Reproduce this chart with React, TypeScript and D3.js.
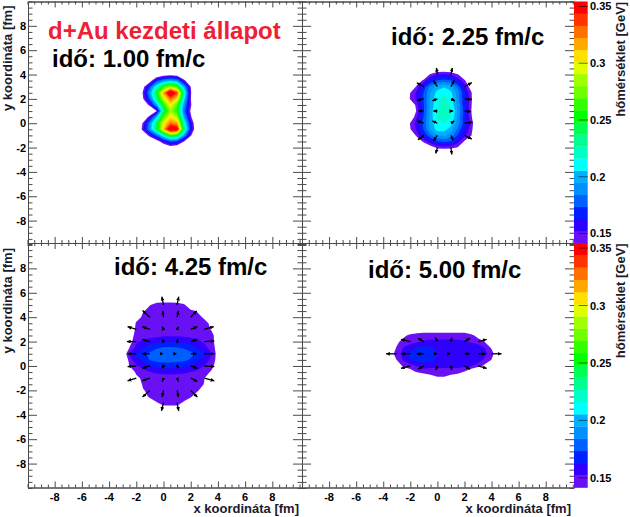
import React, { useEffect, useRef } from "react";
import * as d3 from "d3";

// colour bands, coldest first (one per contour level)
const bandColors = [
  "#6a10f5", "#3000ff", "#0020ff", "#0060ff", "#0090ff", "#00b0ff", "#00ffff", "#00ffc8", "#00ff90", "#00ff50",
  "#00ff00", "#30ff00", "#70ff00", "#a0ff00", "#e0ff00", "#ffe000", "#ffa800", "#ff7000", "#ff3300", "#ff0000",
];
const tempMin = 0.1416;
const tempMax = 0.3544;
const colorTicks = [0.15, 0.2, 0.25, 0.3, 0.35];
const axisMajor = [-8, -6, -4, -2, 0, 2, 4, 6, 8];

// temperature in MeV on a 0.5 fm grid, rows from top to bottom
const grid1Xs = [-2, 2.5];
const grid1Ys = [4, -2];
const grid1 = [
  [100, 100, 100, 120, 130, 135, 130, 100, 100, 100],
  [100, 100, 130, 170, 190, 200, 190, 150, 110, 100],
  [100, 135, 175, 220, 260, 285, 265, 200, 142, 100],
  [100, 145, 195, 250, 318, 378, 338, 228, 145, 100],
  [100, 140, 180, 235, 290, 328, 305, 212, 143, 100],
  [100, 115, 150, 197, 255, 302, 265, 192, 146, 100],
  [100, 100, 105, 142, 235, 285, 258, 185, 138, 100],
  [100, 115, 155, 207, 270, 305, 285, 200, 147, 100],
  [110, 145, 190, 243, 298, 328, 318, 222, 160, 118],
  [112, 150, 195, 245, 312, 372, 360, 238, 165, 118],
  [100, 118, 150, 180, 218, 262, 252, 195, 145, 100],
  [100, 100, 110, 130, 155, 175, 170, 142, 110, 100],
  [100, 100, 100, 100, 120, 130, 125, 100, 100, 100],
];

const grid2Xs = [-2.5, 3];
const grid2Ys = [4.5, -2.5];
const grid2 = [
  [100, 100, 100, 100, 105, 125, 125, 125, 105, 100, 100, 100],
  [100, 100, 100, 120, 146, 153, 155, 152, 144, 120, 100, 100],
  [100, 100, 125, 147, 165, 175, 178, 175, 160, 145, 118, 100],
  [100, 115, 148, 168, 188, 200, 204, 200, 180, 158, 132, 100],
  [105, 142, 155, 175, 195, 210, 214, 208, 190, 165, 144, 110],
  [115, 144, 155, 175, 198, 214, 222, 212, 190, 165, 145, 110],
  [105, 120, 150, 173, 198, 215, 222, 214, 192, 166, 144, 105],
  [100, 105, 147, 173, 200, 218, 228, 220, 195, 168, 142, 105],
  [105, 128, 153, 175, 200, 218, 226, 216, 192, 167, 145, 112],
  [115, 143, 157, 178, 200, 214, 216, 210, 190, 168, 150, 118],
  [110, 141, 155, 175, 197, 210, 210, 200, 182, 162, 147, 118],
  [100, 118, 148, 165, 182, 195, 197, 190, 172, 155, 143, 108],
  [100, 100, 125, 146, 160, 172, 176, 172, 157, 140, 118, 100],
  [100, 100, 100, 118, 133, 145, 147, 145, 141, 118, 100, 100],
  [100, 100, 100, 100, 100, 120, 120, 120, 100, 100, 100, 100],
];

const grid3Xs = [-3, 4];
const grid3Ys = [5.5, -3.5];
const grid3 = [
  [100, 100, 100, 100, 110, 133, 134, 134, 133, 110, 100, 100, 100, 100, 100],
  [100, 100, 100, 110, 141, 147, 147, 147, 147, 147, 120, 100, 100, 100, 100],
  [100, 100, 118, 140, 147, 147, 147, 147, 147, 147, 147, 140, 110, 100, 100],
  [100, 112, 129, 147, 147, 147, 147, 147, 147, 147, 147, 147, 139, 118, 100],
  [100, 105, 146, 147, 147, 147, 147, 147, 147, 147, 147, 147, 147, 138, 105],
  [100, 120, 147, 147, 147, 147, 147, 147, 147, 147, 148, 148, 148, 141, 110],
  [105, 133, 147, 147, 148, 149, 151, 151, 151, 150, 149, 148, 148, 147, 133],
  [110, 136, 150, 155, 158, 160, 162, 162, 162, 160, 158, 155, 150, 147, 134],
  [115, 142, 156, 162, 168, 172, 175, 175, 174, 172, 168, 162, 156, 148, 136],
  [129, 153, 164, 171, 176, 180, 183, 183, 182, 180, 177, 171, 163, 153, 136],
  [116, 148, 159, 165, 174, 177, 178, 178, 177, 176, 172, 165, 159, 150, 136],
  [105, 142, 150, 157, 162, 166, 168, 168, 167, 165, 162, 157, 152, 147, 133],
  [100, 120, 147, 148, 152, 154, 155, 155, 155, 154, 152, 150, 148, 140, 105],
  [100, 105, 135, 147, 147, 147, 147, 147, 147, 147, 147, 147, 142, 115, 100],
  [100, 100, 125, 145, 147, 147, 147, 147, 147, 147, 147, 147, 141, 110, 100],
  [100, 100, 115, 140, 147, 147, 147, 147, 147, 147, 147, 146, 120, 100, 100],
  [100, 100, 100, 129, 147, 147, 147, 147, 147, 147, 147, 120, 100, 100, 100],
  [100, 100, 100, 110, 125, 141, 147, 147, 147, 140, 115, 100, 100, 100, 100],
  [100, 100, 100, 100, 100, 115, 136, 136, 136, 115, 100, 100, 100, 100, 100],
];

const grid4Xs = [-3.5, 4.5];
const grid4Ys = [3, -1];
const grid4 = [
  [100, 100, 110, 122, 133, 135, 135, 135, 135, 135, 135, 135, 125, 110, 100, 100, 100],
  [100, 118, 138, 146, 147, 147, 147, 147, 147, 147, 147, 147, 146, 136, 118, 100, 100],
  [125, 138, 147, 148, 151, 153, 155, 155, 155, 155, 155, 153, 151, 148, 141, 125, 100],
  [130, 143, 153, 158, 164, 166, 164, 160, 158, 158, 158, 158, 158, 158, 152, 140, 120],
  [135, 147, 156, 165, 169, 171, 168, 162, 159, 158, 158, 158, 158, 158, 155, 147, 130],
  [125, 142, 154, 163, 167, 169, 166, 161, 158, 158, 158, 158, 158, 158, 150, 141, 120],
  [100, 130, 145, 148, 153, 156, 155, 155, 155, 155, 155, 155, 153, 147, 138, 118, 100],
  [100, 110, 125, 135, 143, 147, 147, 147, 147, 147, 147, 140, 128, 112, 100, 100, 100],
  [100, 100, 100, 100, 110, 125, 135, 140, 140, 135, 128, 110, 100, 100, 100, 100, 100],
];

// flow arrows: x, y, dx, dy in fm
const arrows2 = [
  [0, 4, -0.07, 0.55], [1, 4, 0.1, 0.55],
  [-1, 3, -0.52, 0.33], [0, 3, -0.3, 0.52], [1, 3, 0.25, 0.52], [2, 3, 0.54, 0.33],
  [-1, 2, -0.5, -0.12], [0, 2, -0.37, -0.16], [1, 2, 0.3, -0.16], [2, 2, 0.54, -0.05],
  [-1, 1, -0.4, 0], [0, 1, -0.3, 0], [1, 1, 0.17, 0], [2, 1, 0.49, -0.05],
  [-1, 0, -0.52, 0.19], [0, 0, -0.37, 0.19], [1, 0, 0.25, 0.19], [2, 0, 0.59, 0.08],
  [-1, -1, -0.44, -0.35], [0, -1, -0.3, -0.46], [1, -1, 0.17, -0.41], [2, -1, 0.54, -0.3],
  [0, -2, -0.12, -0.49], [1, -2, 0.07, -0.57],
];
const arrows3 = [
  [0, 5, -0.12, 0.68], [1, 5, 0.12, 0.68],
  [-1, 4, -0.54, 0.55], [0, 4, -0.05, 0.52], [1, 4, 0.1, 0.52], [2, 4, 0.44, 0.52],
  [-2, 3, -0.64, 0.22], [-1, 3, -0.56, 0.22], [0, 3, -0.1, 0.22], [1, 3, 0.1, 0.22], [2, 3, 0.49, 0.22], [3, 3, 0.69, 0.22],
  [-2, 2, -0.69, 0], [-1, 2, -0.56, 0.19], [0, 2, -0.12, 0.19], [1, 2, 0.07, 0.19], [2, 2, 0.49, 0.19], [3, 2, 0.74, 0.05],
  [-2, 1, -0.64, 0], [-1, 1, -0.56, 0], [0, 1, 0, 0], [1, 1, 0, 0], [2, 1, 0.44, 0], [3, 1, 0.74, 0],
  [-2, 0, -0.64, -0.05], [-1, 0, -0.56, -0.19], [0, 0, -0.1, -0.19], [1, 0, 0.1, -0.19], [2, 0, 0.49, -0.19], [3, 0, 0.74, -0.05],
  [-2, -1, -0.64, -0.22], [-1, -1, -0.56, -0.22], [0, -1, -0.1, -0.27], [1, -1, 0.1, -0.27], [2, -1, 0.49, -0.27], [3, -1, 0.74, -0.22],
  [-1, -2, -0.54, -0.55], [0, -2, -0.1, -0.55], [1, -2, 0.1, -0.55], [2, -2, 0.49, -0.55],
  [0, -3, -0.15, -0.68], [1, -3, 0.12, -0.68],
];
const arrows4 = [
  [-2, 2, -0.69, 0.19], [-1, 2, -0.44, 0.27], [0, 2, -0.15, 0.33], [1, 2, 0.07, 0.33], [2, 2, 0.42, 0.27], [3, 2, 0.64, 0.19],
  [-3, 1, -0.79, 0], [-2, 1, -0.69, 0], [-1, 1, -0.52, 0], [0, 1, 0, 0], [1, 1, 0, 0], [2, 1, 0.42, 0], [3, 1, 0.57, 0], [4, 1, 0.74, 0],
  [-2, 0, -0.69, -0.19], [-1, 0, -0.44, -0.27], [0, 0, -0.12, -0.33], [1, 0, 0.07, -0.33], [2, 0, 0.42, -0.27], [3, 0, 0.64, -0.19],
];

const FONT = "'Liberation Sans', Arial, sans-serif";
const LINE = "#4a4a4a";

const panels = [
  { grid: grid1, xs: grid1Xs, ys: grid1Ys, arrows: [] as number[][], px: [28, 302], py: [1.5, 243], xd: [-9.96, 10.18], yd: [10, -9.84], left: true, bottom: false },
  { grid: grid2, xs: grid2Xs, ys: grid2Ys, arrows: arrows2, px: [302, 574], py: [1.5, 243], xd: [-10, 10.09], yd: [10, -9.84], left: false, bottom: false },
  { grid: grid3, xs: grid3Xs, ys: grid3Ys, arrows: arrows3, px: [28, 302], py: [243, 487.5], xd: [-9.96, 10.18], yd: [10.08, -9.96], left: true, bottom: true },
  { grid: grid4, xs: grid4Xs, ys: grid4Ys, arrows: arrows4, px: [302, 574], py: [243, 487.5], xd: [-10, 10.09], yd: [10.08, -9.96], left: false, bottom: true },
];

const headings = [
  { text: "d+Au kezdeti állapot", x: 48, y: 39, color: "#ee2033" },
  { text: "idő: 1.00 fm/c", x: 52, y: 67, color: "#000" },
  { text: "idő: 2.25 fm/c", x: 391, y: 45, color: "#000" },
  { text: "idő: 4.25 fm/c", x: 114, y: 275, color: "#000" },
  { text: "idő: 5.00 fm/c", x: 368, y: 278, color: "#000" },
];

export default function App() {
  const svgRef = useRef<SVGSVGElement>(null);

  useEffect(() => {
    if (!svgRef.current) return;
    const svg = d3.select(svgRef.current);
    svg.selectAll("*").remove();

    svg.append("defs").append("marker")
      .attr("id", "head")
      .attr("markerUnits", "userSpaceOnUse")
      .attr("viewBox", "0 0 6 6")
      .attr("refX", 6)
      .attr("refY", 3)
      .attr("markerWidth", 3.8)
      .attr("markerHeight", 3.8)
      .attr("orient", "auto")
      .append("path")
      .attr("d", "M0,0L6,3L0,6Z")
      .attr("fill", "#000");

    const bandStep = (tempMax - tempMin) / bandColors.length;
    const thresholds = bandColors.map((_, i) => (tempMin + i * bandStep) * 1000);
    const minor = d3.range(-10, 10.01, 0.5).filter(v => Math.abs(v % 2) > 0.01 || Math.abs(v) === 10);

    panels.forEach(p => {
      const x = d3.scaleLinear().domain(p.xd).range(p.px);
      const y = d3.scaleLinear().domain(p.yd).range(p.py);
      const g = svg.append("g");

      // temperature field
      const rows = p.grid.length;
      const cols = p.grid[0].length;
      const gx = d3.scaleLinear().domain([0.5, cols - 0.5]).range(p.xs);
      const gy = d3.scaleLinear().domain([0.5, rows - 0.5]).range(p.ys);
      const contours = d3.contours().size([cols, rows]).thresholds(thresholds)(p.grid.flat());
      const path = d3.geoPath(d3.geoTransform({
        point(a: number, b: number) {
          (this as any).stream.point(x(gx(a)), y(gy(b)));
        },
      }));
      g.selectAll("path.band")
        .data(contours)
        .join("path")
        .attr("class", "band")
        .attr("d", d => path(d as any))
        .attr("fill", (_, i) => bandColors[i]);

      // flow arrows
      g.selectAll("line.flow")
        .data(p.arrows)
        .join("line")
        .attr("class", "flow")
        .attr("x1", d => x(d[0]))
        .attr("y1", d => y(d[1]))
        .attr("x2", d => x(d[0] + d[2]))
        .attr("y2", d => y(d[1] + d[3]))
        .attr("stroke", "#000")
        .attr("stroke-width", 1.3)
        .attr("marker-end", "url(#head)");

      // frame with ticks on all four sides
      const drawAxis = (axis: d3.Axis<number>, tx: number, ty: number) => {
        const a = g.append("g").attr("transform", `translate(${tx},${ty})`).call(axis as any);
        a.selectAll("text").remove();
        a.selectAll("line").attr("stroke", LINE);
        a.select(".domain").attr("stroke", LINE);
      };
      const sides: Array<[any, any, number, number, number]> = [
        [d3.axisBottom, x, 0, p.py[0], 6],
        [d3.axisTop, x, 0, p.py[1], 6],
        [d3.axisRight, y, p.px[0], 0, 9],
        [d3.axisLeft, y, p.px[1], 0, 9],
      ];
      sides.forEach(([ctor, scale, tx, ty, len]) => {
        drawAxis(ctor(scale).tickValues(axisMajor).tickSize(len).tickSizeOuter(0), tx, ty);
        drawAxis(ctor(scale).tickValues(minor).tickSize(len / 2).tickSizeOuter(0), tx, ty);
      });

      // tick labels
      if (p.left) {
        g.selectAll("text.yl")
          .data(axisMajor)
          .join("text")
          .attr("class", "yl")
          .attr("x", 26)
          .attr("y", d => y(d) + 4)
          .attr("text-anchor", "end")
          .attr("font-size", 11)
          .attr("font-weight", "bold")
          .attr("font-family", FONT)
          .text(d => d);
        g.append("text")
          .attr("transform", `translate(${12},${y(10)}) rotate(-90)`)
          .attr("x", -4)
          .attr("text-anchor", "end")
          .attr("font-size", 13)
          .attr("font-family", FONT)
          .attr("font-weight", "bold")
          .attr("fill", "#1a1a2a")
          .text("y koordináta [fm]");
      }
      if (p.bottom) {
        g.selectAll("text.xl")
          .data(axisMajor)
          .join("text")
          .attr("class", "xl")
          .attr("x", d => x(d))
          .attr("y", 501)
          .attr("text-anchor", "middle")
          .attr("font-size", 11)
          .attr("font-weight", "bold")
          .attr("font-family", FONT)
          .text(d => d);
        g.append("text")
          .attr("x", p.px[1] - 3)
          .attr("y", 513)
          .attr("text-anchor", "end")
          .attr("font-size", 13)
          .attr("font-family", FONT)
          .attr("font-weight", "bold")
          .attr("fill", "#1a1a2a")
          .text("x koordináta [fm]");
      }
    });

    // colour bars
    [[1.5, 243], [243, 487.5]].forEach(range => {
      const t = d3.scaleLinear().domain([tempMin, tempMax]).range([range[1], range[0]]);
      const g = svg.append("g");
      g.selectAll("rect")
        .data(bandColors)
        .join("rect")
        .attr("x", 574)
        .attr("width", 13.7)
        .attr("y", (_, i) => t(tempMin + (i + 1) * bandStep))
        .attr("height", (_, i) => t(tempMin + i * bandStep) - t(tempMin + (i + 1) * bandStep) + 0.3)
        .attr("fill", d => d);
      g.selectAll("line")
        .data(colorTicks)
        .join("line")
        .attr("x1", 578.5)
        .attr("x2", 587.7)
        .attr("y1", d => t(d))
        .attr("y2", d => t(d))
        .attr("stroke", "#000")
        .attr("stroke-opacity", 0.55);
      g.selectAll("text")
        .data(colorTicks)
        .join("text")
        .attr("x", 590)
        .attr("y", d => t(d) + 4)
        .attr("font-size", 11)
        .attr("font-weight", "bold")
        .attr("font-family", FONT)
        .text(d => d);
      g.append("text")
        .attr("transform", `translate(${625},${t(0.355) + 1}) rotate(-90)`)
        .attr("text-anchor", "end")
        .attr("font-size", 13)
        .attr("font-family", FONT)
        .attr("font-weight", "bold")
        .attr("fill", "#1a1a2a")
        .text("hőmérséklet [GeV]");
    });

    // panel headings
    svg.selectAll("text.heading")
      .data(headings)
      .join("text")
      .attr("class", "heading")
      .attr("x", d => d.x)
      .attr("y", d => d.y)
      .attr("fill", d => d.color)
      .attr("font-size", 24)
      .attr("font-weight", "bold")
      .attr("font-family", FONT)
      .text(d => d.text);
  }, []);

  return (
    <svg
      ref={svgRef}
      width={630}
      height={517}
      style={{ position: "absolute", left: 0, top: 0, background: "#fff" }}
    ></svg>
  );
}
